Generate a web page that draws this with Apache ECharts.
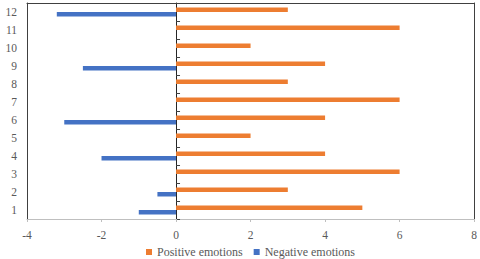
<!DOCTYPE html>
<html>
<head>
<meta charset="utf-8">
<script src="https://cdn.jsdelivr.net/npm/echarts@6/dist/echarts.min.js"></script>
<style>html,body{margin:0;padding:0;background:#fff}#c{width:480px;height:259px}</style>
</head>
<body>
<div id="c"></div>
<script>
const categories = ['1','2','3','4','5','6','7','8','9','10','11','12'];
const positiveEmotions = [5, 3, 6, 4, 2, 4, 6, 3, 4, 2, 6, 3];
const negativeEmotions = [-1, -0.5, 0, -2, 0, -3, 0, 0, -2.5, 0, 0, -3.2];
const xTicks = { min: -4, max: 8, interval: 2 };

const font = 'Liberation Serif';
const chart = echarts.init(document.getElementById('c'), null, { renderer: 'svg' });
const grid = { left: 27, right: 5, top: 3, bottom: 40 };
chart.setOption({
  animation: false,
  backgroundColor: '#fff',
  textStyle: { fontFamily: font },
  grid: grid,
  legend: {
    left: 141, top: 241,
    itemWidth: 6, itemHeight: 6, icon: 'rect', itemGap: 11,
    textStyle: { fontFamily: font, fontSize: 12, color: '#595959' },
    data: ['Positive emotions', 'Negative emotions']
  },
  xAxis: [{
    type: 'value', min: xTicks.min, max: xTicks.max, interval: xTicks.interval,
    position: 'bottom',
    axisLine: { show: true, onZero: false, lineStyle: { color: '#bfbfbf', width: 1 } },
    axisTick: { show: true, length: 3, lineStyle: { color: '#bfbfbf' } },
    axisLabel: { fontFamily: font, fontSize: 11.5, color: '#595959', margin: 10 },
    splitLine: { show: false }
  }, {
    type: 'value', min: xTicks.min, max: xTicks.max, interval: xTicks.interval,
    position: 'top',
    axisLine: { show: true, onZero: false, lineStyle: { color: '#404040', width: 1 } },
    axisTick: { show: false }, axisLabel: { show: false }, splitLine: { show: false }
  }],
  yAxis: [{
    type: 'category', data: categories, position: 'left',
    axisLine: { show: true, onZero: false, lineStyle: { color: '#404040' } },
    axisTick: { show: false },
    axisLabel: { fontFamily: font, fontSize: 11.5, color: '#595959', margin: 10 }
  }, {
    type: 'category', data: categories, position: 'left',
    axisLine: { show: true, onZero: true, onZeroAxisIndex: 0, lineStyle: { color: '#262626' } },
    axisTick: { show: true, inside: true, length: 4, lineStyle: { color: '#404040' } },
    axisLabel: { show: false }
  }, {
    type: 'category', data: categories, position: 'right',
    axisLine: { show: true, onZero: false, lineStyle: { color: '#404040' } },
    axisTick: { show: false }, axisLabel: { show: false }
  }],
  series: [{
    name: 'Positive emotions', type: 'bar', data: positiveEmotions,
    xAxisIndex: 0, yAxisIndex: 0,
    barWidth: 4.5, barGap: '0%',
    itemStyle: { color: '#ED7D31' }
  }, {
    name: 'Negative emotions', type: 'bar', data: negativeEmotions,
    xAxisIndex: 0, yAxisIndex: 0,
    barWidth: 4.5, barGap: '0%',
    itemStyle: { color: '#4472C4' }
  }]
});
</script>
</body>
</html>
